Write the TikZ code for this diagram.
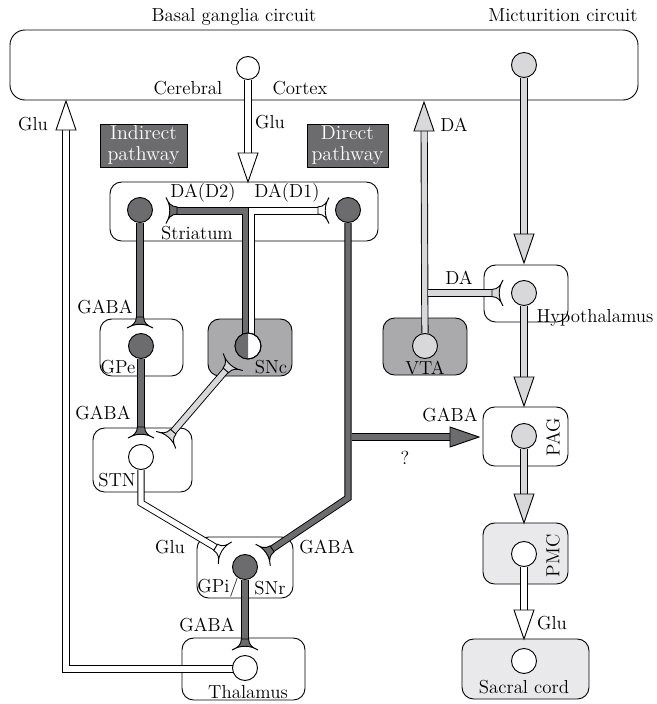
\documentclass[tikz,border=0pt]{standalone}
\usepackage{tikz}
\usetikzlibrary{backgrounds}
\definecolor{nrdark}{RGB}{108,108,110}
\definecolor{nrmid}{RGB}{170,170,172}
\definecolor{nrlight}{RGB}{216,216,218}
\definecolor{nrpale}{RGB}{233,233,235}
\newcommand\pxu{0.6pt}
\newcommand\synapse[3]{\filldraw[fill=#3, line width=0.55pt, shift={(#1)}, rotate=#2] (-11,3.6) .. controls (-5,3.6) and (-2,8) .. (0,13) .. controls (-5,5) and (-5,-5) .. (0,-13) .. controls (-2,-8) and (-5,-3.6) .. (-11,-3.6) -- cycle;}
\newcommand\arrowtip[3]{\filldraw[fill=#3, line width=0.55pt, shift={(#1)}, rotate=#2] (0,0) -- (-29,10) -- (-29,-10) -- cycle;}
\tikzset{
  axon/.style={line width=0.55pt, double distance=3.2pt},
  gaba/.style={axon, double=nrdark},
  glu/.style={axon, double=white},
  mict/.style={axon, double=nrlight},
  cell/.style={circle, draw, line width=0.55pt, minimum size=15pt, inner sep=0pt},
  region/.style={draw, line width=0.55pt, rounded corners=7pt, inner sep=0pt},
  tag/.style={fill=nrdark, draw, line width=0.5pt, text=white, align=center, inner sep=0pt, font=\fontsize{12}{12.6}\selectfont},
  lbl/.style={font=\fontsize{11.3}{12.4}\selectfont, inner sep=0pt},
}

\begin{document}
\begin{tikzpicture}[x=\pxu, y=-\pxu, lbl]
        \useasboundingbox (0,0) rectangle (657,704);

        \node[cell, fill=white, minimum height=13.8pt, minimum width=12.4pt] (ctxA) at (248,68) {};
        \node[cell, fill=nrlight] (ctxB) at (524,65) {};
        \node[cell, fill=nrdark] (strL) at (140,210) {};
        \node[cell, fill=nrdark] (strR) at (348,210) {};
        \node[cell, fill=nrdark] (gpeN) at (141,346) {};
        \node[cell, fill=white, minimum size=15.6pt] (sncN) at (248,346) {};
        \node[cell, fill=white] (stnN) at (141,457) {};
        \node[cell, fill=nrdark] (gpiN) at (245,567) {};
        \node[cell, fill=white] (thalN) at (245,668) {};
        \node[cell, fill=nrlight] (vtaN) at (425,346) {};
        \node[cell, fill=nrlight] (hypN) at (524,293) {};
        \node[cell, fill=nrlight] (pagN) at (524,436) {};
        \node[cell, fill=white] (pmcN) at (524,554) {};
        \node[cell, fill=white] (sacN) at (524,661) {};
        \fill[nrdark] (sncN.south) arc[start angle=90, end angle=270, radius=13] -- cycle;
        \draw[line width=0.55pt] (sncN.center) circle[radius=13];

        \coordinate (strIn) at (248,182);
        \coordinate (gpeIn) at (140,328);
        \coordinate (stnIn) at (141,438);
        \coordinate (thalIn) at (245,650);
        \coordinate (stnBend) at (141,503);
        \coordinate (gpiGlu) at (225,553);
        \coordinate (dirBend) at (348,498);
        \coordinate (gpiGaba) at (263,555);
        \coordinate (dirFork) at (352,437);
        \coordinate (pagGaba) at (479,437);
        \coordinate (thalOut) at (233,669);
        \coordinate (thalBend) at (66,669);
        \coordinate (ctxGlu) at (66,101);
        \coordinate (sncOut) at (233,362);
        \coordinate (stnDA) at (166,440);
        \coordinate (ctxDA) at (424,102);
        \coordinate (vtaFork) at (428,293);
        \coordinate (hypDA) at (503,293);
        \coordinate (hypIn) at (524,263);
        \coordinate (pagIn) at (524,406);
        \coordinate (pmcIn) at (524,523);
        \coordinate (sacIn) at (524,639);
        \coordinate (strD2) at (166,210.5);
        \coordinate (strD1) at (329,210.5);

        \begin{scope}[on background layer]
        \node[region, minimum width=376.8pt, minimum height=42pt, rounded corners=9pt] (ctx) at (324,65) {};
        \node[region, minimum width=160.8pt, minimum height=35.4pt] (str) at (244,211.5) {};
        \node[region, minimum width=49.8pt, minimum height=34.2pt] (gpe) at (141.5,347.5) {};
        \node[region, fill=nrmid, minimum width=50.4pt, minimum height=34.2pt] (snc) at (250,347.5) {};
        \node[region, minimum width=59.4pt, minimum height=38.4pt] (stn) at (142.5,460) {};
        \node[region, minimum width=57.6pt, minimum height=36.6pt] (gpi) at (245,567.5) {};
        \node[region, minimum width=73.8pt, minimum height=37.2pt] (thal) at (243.5,669) {};
        \node[region, fill=nrmid, minimum width=50.4pt, minimum height=34.2pt] (vta) at (425,346.5) {};
        \node[region, minimum width=50.4pt, minimum height=34.2pt] (hyp) at (526,293.5) {};
        \node[region, minimum width=51pt, minimum height=35.4pt] (pag) at (525.5,436.5) {};
        \node[region, fill=nrpale, minimum width=51pt, minimum height=36.6pt] (pmc) at (525.5,553.5) {};
        \node[region, fill=nrpale, minimum width=76.2pt, minimum height=36pt] (sac) at (525.5,669) {};

        \draw[glu, shorten >=16pt] (ctxA) -- (strIn);
        \arrowtip{strIn}{-90}{white}
        \draw[gaba, shorten >=5.4pt] (strL) -- (gpeIn);
        \synapse{gpeIn}{-90}{nrdark}
        \draw[gaba, shorten >=5.4pt] (gpeN) -- (stnIn);
        \synapse{stnIn}{-90}{nrdark}
        \draw[gaba, shorten >=5.4pt] (gpiN) -- (thalIn);
        \synapse{thalIn}{-90}{nrdark}
        \draw[glu, shorten >=5.4pt] (stnN) -- (stnBend) -- (gpiGlu);
        \synapse{gpiGlu}{-31}{white}
        \draw[gaba, shorten >=5.4pt] (strR) -- (dirBend) -- (gpiGaba);
        \synapse{gpiGaba}{-146}{nrdark}
        \draw[gaba, shorten >=16pt] (dirFork) -- (pagGaba);
        \arrowtip{pagGaba}{0}{nrdark}
        \draw[glu, shorten >=16pt] (thalOut) -- (thalBend) -- (ctxGlu);
        \arrowtip{ctxGlu}{90}{white}
        \draw[mict, shorten <=5.4pt, shorten >=5.4pt] (stnDA) -- (sncOut);
        \synapse{sncOut}{49}{nrlight}
        \synapse{stnDA}{229}{nrlight}
        \filldraw[fill=nrdark, line width=0.55pt] (175,207) -- (248,207) -- (248,346) -- (242,346) -- (242,214) -- (175,214) -- cycle;
        \filldraw[fill=white, line width=0.55pt] (248,207) -- (320,207) -- (320,214) -- (254,214) -- (254,346) -- (248,346) -- cycle;
        \synapse{strD2}{180}{nrdark}
        \synapse{strD1}{0}{white}
        \draw[mict, shorten >=16pt] (vtaN) -- (ctxDA);
        \arrowtip{ctxDA}{90}{nrlight}
        \draw[mict, shorten >=5.4pt] (vtaFork) -- (hypDA);
        \synapse{hypDA}{0}{nrlight}
        \draw[mict, shorten >=16pt] (ctxB) -- (hypIn);
        \arrowtip{hypIn}{-90}{nrlight}
        \draw[mict, shorten >=16pt] (hypN) -- (pagIn);
        \arrowtip{pagIn}{-90}{nrlight}
        \draw[mict, shorten >=16pt] (pagN) -- (pmcIn);
        \arrowtip{pmcIn}{-90}{nrlight}
        \draw[glu, shorten >=16pt] (pmcN) -- (sacIn);
        \arrowtip{sacIn}{-90}{white}
        \end{scope}

        \node[tag, minimum width=52.2pt, minimum height=25.8pt] (indir) at (143.5,145.5) {Indirect\\pathway};
        \node[tag, minimum width=48.6pt, minimum height=25.8pt] (dir) at (347.5,145.5) {Direct\\pathway};

        \node (tBG) at (234,17) {Basal ganglia circuit};
        \node (tMC) at (563,15) {Micturition circuit};
        \node (lCer) at (188,88) {Cerebral};
        \node (lCor) at (300,88) {Cortex};
        \node (lGluA) at (270,122) {Glu};
        \node (lGluB) at (33,124) {Glu};
        \node (lDAa) at (454,125) {DA};
        \node (lD2) at (203,193) {DA(D2)};
        \node (lD1) at (287,193) {DA(D1)};
        \node (lStr) at (197,233) {Striatum};
        \node (lGabaA) at (105,307) {GABA};
        \node (lGpe) at (118,367) {GPe};
        \node (lSnc) at (271,367) {SNc};
        \node (lGabaB) at (103,413) {GABA};
        \node (lStn) at (117,480) {STN};
        \node (lGluC) at (170,547) {Glu};
        \node (lGabaC) at (327,547) {GABA};
        \node (lGpi) at (218,588) {GPi/};
        \node (lSnr) at (270,588) {SNr};
        \node (lGabaD) at (207,625) {GABA};
        \node (lThal) at (248,692) {Thalamus};
        \node (lDAb) at (459,278) {DA};
        \node (lHyp) at (595,318) {Hypothalamus};
        \node (lVta) at (425,368) {VTA};
        \node (lGabaE) at (450,415) {GABA};
        \node (lQ) at (405,458) {?};
        \node[rotate=90] (lPag) at (553,437) {PAG};
        \node[rotate=90] (lPmc) at (553,556) {PMC};
        \node (lGluD) at (552,623) {Glu};
        \node (lSac) at (524,687) {Sacral cord};
    \end{tikzpicture}
\end{document}
